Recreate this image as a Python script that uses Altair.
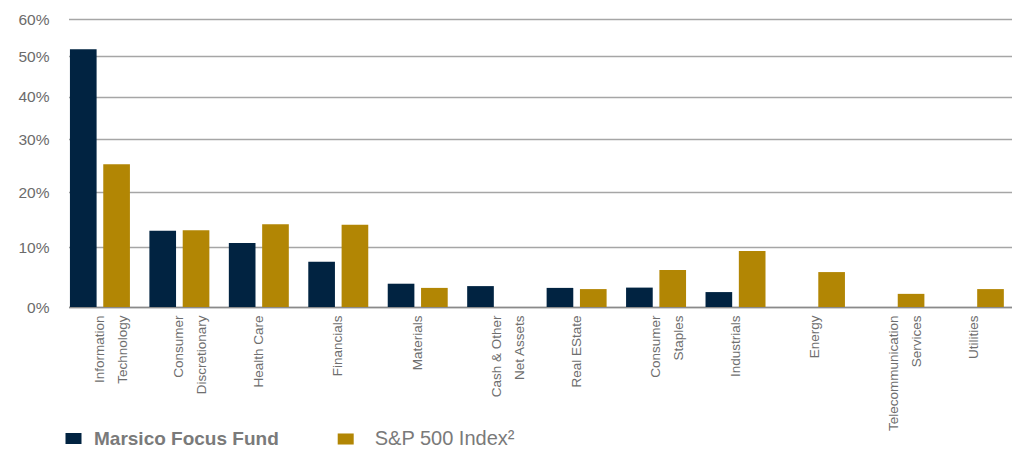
import altair as alt
import pandas as pd

sectors = [
    "Information|Technology", "Consumer|Discretionary", "Health Care", "Financials",
    "Materials", "Cash & Other|Net Assets", "Real EState", "Consumer|Staples",
    "Industrials", "Energy", "Telecommunication|Services", "Utilities",
]
series = ["Marsico Focus Fund", "S&P 500 Index²"]
fund = [51.8, 13.0, 10.8, 7.6, 3.9, 3.5, 3.2, 3.25, 2.5, 0, 0, 0]
sp500 = [25.3, 13.1, 14.2, 14.1, 3.2, 0, 3.0, 6.2, 9.4, 5.85, 2.2, 3.0]
y_ticks = [0, 10, 20, 30, 40, 50, 60]
# the reference's y axis is not evenly spaced; pixel position of each tick in the plot
y_tick_px = [288, 228.3, 173.3, 120.3, 77.7, 37, 0]

colors = ["#012341", "#B28604"]

rows = []
for i, s in enumerate(sectors):
    rows.append({"sector": s, "series": series[0], "value": fund[i]})
    rows.append({"sector": s, "series": series[1], "value": sp500[i]})
df = pd.DataFrame(rows)

base = alt.Chart(df).encode(
    x=alt.X("sector:N", sort=sectors,
            scale=alt.Scale(paddingInner=0.245, paddingOuter=0.0604, align=0.15),
            axis=alt.Axis(title=None, labelAngle=270, labelAlign="right", labelBaseline="middle",
                          labelExpr="split(datum.label, '|')", labelPadding=8, ticks=False,
                          labelFont="Liberation Sans", labelFontSize=13.5, labelLineHeight=23,
                          labelColor="#6e6e6e", domainColor="#8a8a8a", domainWidth=1.5,
                          labelLimit=300, labelOverlap=False)),
    xOffset=alt.XOffset("series:N", sort=series,
                        scale=alt.Scale(domain=series, paddingInner=0.2, paddingOuter=0)),
    y=alt.Y("value:Q",
            scale=alt.Scale(domain=y_ticks, range=y_tick_px, nice=False, zero=False),
            axis=alt.Axis(title=None, values=y_ticks, labelExpr="datum.value + '%'",
                          domain=False, ticks=False, labelPadding=19.5,
                          labelFont="Liberation Sans", labelFontSize=15.5, labelColor="#6b6b6b",
                          gridColor="#a6a6a6", gridWidth=1.3)),
)

def legend(x, weight, offset, size):
    return alt.Legend(title=None, orient="none", legendX=x, legendY=410,
                      direction="horizontal", labelOffset=offset,
                      symbolType="M-1,-0.69L1,-0.69L1,0.69L-1,0.69Z",
                      symbolSize=256, symbolStrokeWidth=0,
                      labelFont="Liberation Sans", labelFontSize=size, labelFontWeight=weight,
                      labelColor="#7a7a7a", labelLimit=400)

settings = [(-4.5, "bold", 11, 19), (267.2, "normal", 19, 20)]
layers = []
for name, col, (lx, w, off, sz) in zip(series, colors, settings):
    layers.append(
        base.transform_filter(alt.datum.series == name).mark_bar().encode(
            color=alt.Color("series:N", scale=alt.Scale(domain=[name], range=[col]),
                            legend=legend(lx, w, off, sz))
        )
    )

chart = alt.layer(*layers).resolve_scale(color="independent").properties(
    width=943.5, height=288,
    autosize=alt.AutoSizeParams(type="none"),
    padding={"left": 60.5, "top": 11, "right": 0, "bottom": 144},
).configure_view(stroke=None)

chart.save("out.html", embed_options={"renderer": "svg", "actions": False})
